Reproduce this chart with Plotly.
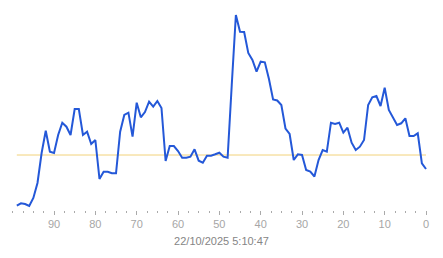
import plotly.graph_objects as go

# x positions (seconds ago), 99 -> 0
x_vals = list(range(99, -1, -1))
# series values (arbitrary units)
py = [205.7, 203.3, 204, 206, 198, 183, 153, 130.7, 151.7, 153,
      135, 122.7, 126.7, 135, 109, 109, 135, 131.7, 144, 140,
      179, 171.7, 171.7, 173.3, 173.3, 131.7, 115, 112.7, 136.7, 102.7,
      117.3, 112, 101.7, 106.7, 101, 108, 161, 146, 146, 151,
      157.7, 157.7, 156.7, 149.3, 160.7, 162.7, 155.7, 155.7, 154.3, 152.7,
      156.7, 157.7, 85, 15, 31.7, 32, 53, 60, 71.7, 61.7,
      62.3, 79, 99.5, 100.5, 105, 128.5, 134, 160, 154.3, 155,
      170, 171.7, 176.5, 160, 150, 151.7, 122.7, 124, 122.7, 132.7,
      127.7, 142.7, 150, 146.7, 140, 105, 97.3, 96, 106, 87.7,
      110, 117.3, 125, 123.3, 118.3, 136, 136, 133.3, 163.3, 169]
values = [round(210 - p, 1) for p in py]
threshold = 55
threshold_x = [99, 0]
title_text = "22/10/2025 5:10:47"
tick_vals = [90, 80, 70, 60, 50, 40, 30, 20, 10, 0]

fig = go.Figure()
fig.add_trace(go.Scatter(x=threshold_x, y=[threshold, threshold], mode="lines",
                         line=dict(color="#f2d27a", width=1), hoverinfo="skip"))
fig.add_trace(go.Scatter(x=x_vals, y=values, mode="lines",
                         line=dict(color="#2458d8", width=2)))

fig.update_layout(
    width=443, height=258,
    margin=dict(l=10, r=10, t=5, b=48),
    paper_bgcolor="white", plot_bgcolor="white",
    showlegend=False,
    font=dict(family="Liberation Sans, Arial, sans-serif", size=11, color="#999999"),
)
fig.update_xaxes(
    range=[100.65, -1.69],
    tickvals=tick_vals,
    ticks="outside", ticklen=4, tickwidth=1, tickcolor="#aaaaaa",
    minor=dict(dtick=2.5, tick0=0, ticks="outside", ticklen=2, tickcolor="#aaaaaa", showgrid=False),
    showgrid=False, zeroline=False, showline=False,
    tickfont=dict(size=11, color="#a6a6a6"),
    title=dict(text=title_text, font=dict(size=11, color="#858585"), standoff=8),
)
fig.update_yaxes(range=[0, 205], visible=False, showgrid=False, zeroline=False)

fig.write_html("out.html")
